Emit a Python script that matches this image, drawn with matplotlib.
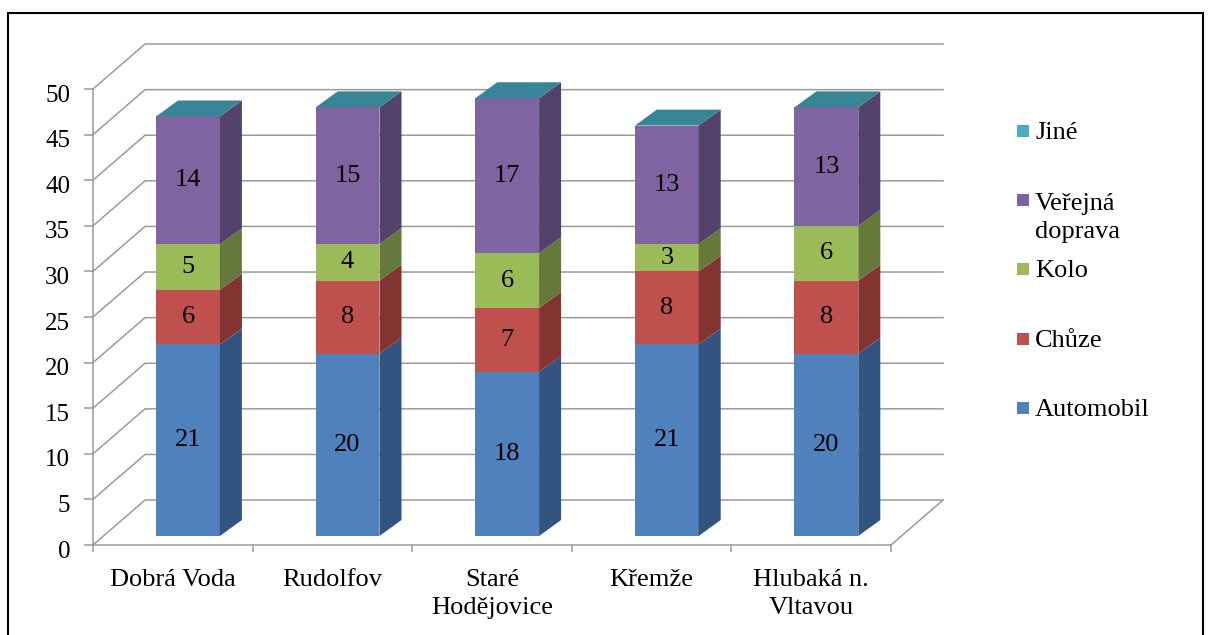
import numpy as np
import matplotlib.pyplot as plt
import matplotlib.transforms as mtransforms
from matplotlib.patches import Polygon, Rectangle

plt.rcParams['font.family'] = ['Liberation Serif', 'DejaVu Serif']

# data
towns = ['Dobrá Voda', 'Rudolfov', 'Staré\nHodějovice', 'Křemže', 'Hlubaká n.\nVltavou']
series = ['Automobil', 'Chůze', 'Kolo', 'Veřejná\ndoprava', 'Jiné']
automobil = [21, 20, 18, 21, 20]
chuze = [6, 8, 7, 8, 8]
kolo = [5, 4, 6, 3, 6]
verejna = [14, 15, 17, 13, 13]
jine = [0, 0, 0, 0, 0]
y_ticks = list(range(0, 51, 5))

front_colors = ['#4F81BD', '#C0504D', '#9BBB59', '#8064A2', '#4BACC6']
side_colors = ['#335480', '#833431', '#657A3A', '#53426C', '#388597']
GRID = '#9A9A9A'

W, H = 1213, 635
fig = plt.figure(figsize=(W / 100, H / 100), dpi=100)
ax = fig.add_axes([93 / W, 1 - 545 / H, 798 / W, 456 / H])
n = len(towns)
ax.set_xlim(0, n)
ax.set_ylim(0, 50)

# depth of the box (data units) and of the bars
DX, DY = 0.326, 4.93
XL, BW = 0.395, 0.40
ZY = 0.99
BDX, BDY = 0.138, 1.75

# back wall + side wall gridlines
for v in y_ticks:
    ax.plot([0, DX, n + DX], [v, v + DY, v + DY], color=GRID, lw=1.1,
            clip_on=False, zorder=1)
ax.plot([n, n + DX], [0, DY], color=GRID, lw=1.1, clip_on=False, zorder=1)

values = [automobil, chuze, kolo, verejna, jine]
bottom = np.zeros(n)
x_left = np.arange(n) + XL
for k, vals in enumerate(values):
    vals = np.array(vals, dtype=float)
    base = bottom + ZY
    ax.bar(x_left, vals, width=BW, bottom=base, align='edge',
           color=front_colors[k], zorder=3, clip_on=False)
    for i in range(n):
        if vals[i] <= 0:
            continue
        x1 = x_left[i] + BW
        b, t = base[i], base[i] + vals[i]
        ax.add_patch(Polygon([(x1, b), (x1, t), (x1 + BDX, t + BDY), (x1 + BDX, b + BDY)],
                             closed=True, facecolor=side_colors[k], edgecolor='none',
                             zorder=3, clip_on=False))
        ax.text(x_left[i] + BW / 2, b + vals[i] / 2, f'{int(vals[i])}',
                ha='center', va='center', fontsize=19, zorder=4)
    bottom += vals

# top faces
for i in range(n):
    t = bottom[i] + ZY
    x0 = x_left[i]
    ax.add_patch(Polygon([(x0, t), (x0 + BW, t), (x0 + BW + BDX, t + BDY), (x0 + BDX, t + BDY)],
                         closed=True, facecolor=side_colors[4], edgecolor='none',
                         zorder=3, clip_on=False))

# axes
for s in ['top', 'right']:
    ax.spines[s].set_visible(False)
for s in ['left', 'bottom']:
    ax.spines[s].set_color(GRID)
    ax.spines[s].set_linewidth(1.1)
ax.set_yticks(y_ticks)
ax.set_yticklabels([str(v) for v in y_ticks], fontsize=18)
ax.tick_params(axis='y', length=6.5, width=1.1, color=GRID, pad=10)
offset = mtransforms.ScaledTranslation(0, -3 / 72, fig.dpi_scale_trans)
for lab in ax.get_yticklabels():
    lab.set_transform(lab.get_transform() + offset)

ax.set_xticks(range(n + 1))
ax.set_xticklabels([])
ax.tick_params(axis='x', which='major', length=5, width=1.1, color=GRID)
ax.set_xticks(np.arange(n) + 0.5, minor=True)
ax.set_xticklabels(towns, minor=True, fontsize=19, linespacing=1.37)
ax.tick_params(axis='x', which='minor', length=0, pad=17)

# legend
for k, name in enumerate(series):
    yc = 408 - 69.3 * k
    fig.add_artist(Rectangle((1017 / W, 1 - (yc + 6) / H), 12 / W, 12 / H,
                             facecolor=front_colors[k], edgecolor='none'))
    yb = yc + 8 + 30 * name.count('\n')
    fig.text(1035 / W, 1 - yb / H, name, fontsize=19, ha='left',
             va='baseline', linespacing=1.37)

# outer frame
fig.add_artist(Rectangle((8 / W, -0.1), 1195 / W, 1.1 - 13 / H,
                         facecolor='none', edgecolor='black', lw=1.5))

fig.savefig('out.png', dpi=100)
